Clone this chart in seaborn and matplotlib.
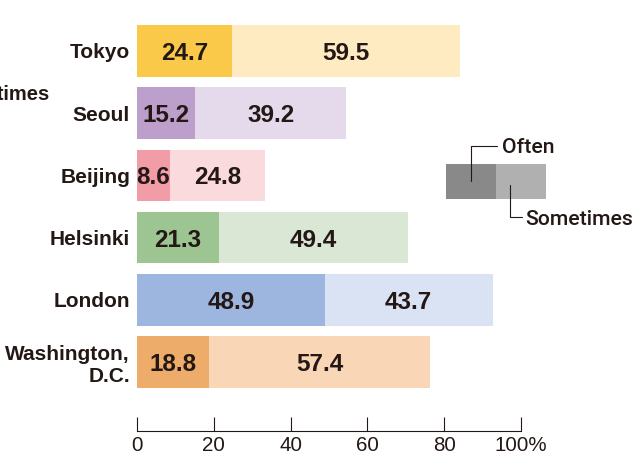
import matplotlib
matplotlib.use("Agg")
import matplotlib.pyplot as plt
from matplotlib.patches import Rectangle
from matplotlib.lines import Line2D
import seaborn as sns
import pandas as pd

# Share of respondents per city, in percent
cities = ["Tokyo", "Seoul", "Beijing", "Helsinki", "London", "Washington,\nD.C."]
often = [24.7, 15.2, 8.6, 21.3, 48.9, 18.8]
sometimes = [59.5, 39.2, 24.8, 49.4, 43.7, 57.4]
x_ticks = [0, 20, 40, 60, 80, 100]
x_tick_labels = ["0", "20", "40", "60", "80", "100%"]
legend_labels = ["Often", "Sometimes"]

dark_colors = ["#FBC94A", "#BCA0CB", "#F29CA7", "#9DC591", "#9DB6DF", "#EEAC6A"]
light_colors = ["#FEEBC1", "#E4DAEC", "#FADADD", "#DBE7D5", "#DAE3F4", "#F8D6B6"]
legend_colors = ["#898989", "#B0B0B0"]
ink = "#231815"

sns.set_theme(style="white")
plt.rcParams["font.family"] = ["Liberation Sans", "DejaVu Sans"]
plt.rcParams["text.color"] = ink
plt.rcParams["xtick.color"] = ink
plt.rcParams["ytick.color"] = ink

df = pd.DataFrame({
    "city": cities,
    "often": often,
    "sometimes": sometimes,
})
df["total"] = df["often"] + df["sometimes"]

W, H = 643, 454
fig = plt.figure(figsize=(W / 100, H / 100), dpi=100)


def fx(px):
    return px / W


def fy(py):
    return 1 - py / H


ax = fig.add_axes([fx(137), fy(431), (521 - 137) / W, (431 - 20) / H])

# light segment spans the full total, dark "often" segment overlays from 0
sns.barplot(data=df, x="total", y="city", hue="city", palette=light_colors,
            orient="h", width=0.83, saturation=1, legend=False, ax=ax,
            linewidth=0, edgecolor="none")
sns.barplot(data=df, x="often", y="city", hue="city", palette=dark_colors,
            orient="h", width=0.83, saturation=1, legend=False, ax=ax,
            linewidth=0, edgecolor="none")

for i, (o, s) in enumerate(zip(often, sometimes)):
    ax.text(o / 2, i, f"{o}", ha="center", va="center_baseline",
            fontsize=17.5, fontweight="bold", color=ink)
    ax.text(o + s / 2, i, f"{s}", ha="center", va="center_baseline",
            fontsize=17.5, fontweight="bold", color=ink)

ax.set_xlim(0, 100)
ax.set_ylim(6.11, -0.497)
ax.set_xlabel("")
ax.set_ylabel("")
ax.set_xticks(x_ticks)
ax.set_xticklabels(x_tick_labels, fontsize=14.8)
ax.set_yticks(range(len(cities)))
ax.set_yticklabels(cities, fontsize=15, fontweight="bold")
ax.tick_params(axis="y", length=0, pad=5)
ax.tick_params(axis="x", direction="in", length=10, width=0.8, pad=3.5,
               bottom=True)

for side in ["top", "left", "right"]:
    ax.spines[side].set_visible(False)
ax.spines["bottom"].set_color(ink)
ax.spines["bottom"].set_linewidth(0.8)
ax.grid(False)

# legend swatches with leader lines
fig.add_artist(Rectangle((fx(446), fy(199.5)), 50 / W, 35.5 / H,
                         transform=fig.transFigure, facecolor=legend_colors[0],
                         edgecolor="none"))
fig.add_artist(Rectangle((fx(496), fy(199.5)), 50 / W, 35.5 / H,
                         transform=fig.transFigure, facecolor=legend_colors[1],
                         edgecolor="none"))
fig.add_artist(Line2D([fx(471), fx(471), fx(497)], [fy(181), fy(146), fy(146)],
                      transform=fig.transFigure, color=ink, lw=0.8))
fig.add_artist(Line2D([fx(509.5), fx(509.5), fx(522)], [fy(185), fy(217), fy(217)],
                      transform=fig.transFigure, color=ink, lw=0.8))
label_font = ["Roboto", "Liberation Sans", "DejaVu Sans"]
fig.text(fx(502), fy(145.5), legend_labels[0], ha="left", va="center_baseline",
         fontsize=15.3, color=ink, family=label_font, fontweight="medium")
fig.text(fx(525.5), fy(217), legend_labels[1], ha="left", va="center_baseline",
         fontsize=15.3, color=ink, family=label_font, fontweight="medium")

# label running off the left edge
fig.text(fx(50), fy(93), "Sometimes", ha="right", va="center_baseline",
         fontsize=14.5, color=ink, fontweight="bold")

fig.savefig("out.png", dpi=100)
